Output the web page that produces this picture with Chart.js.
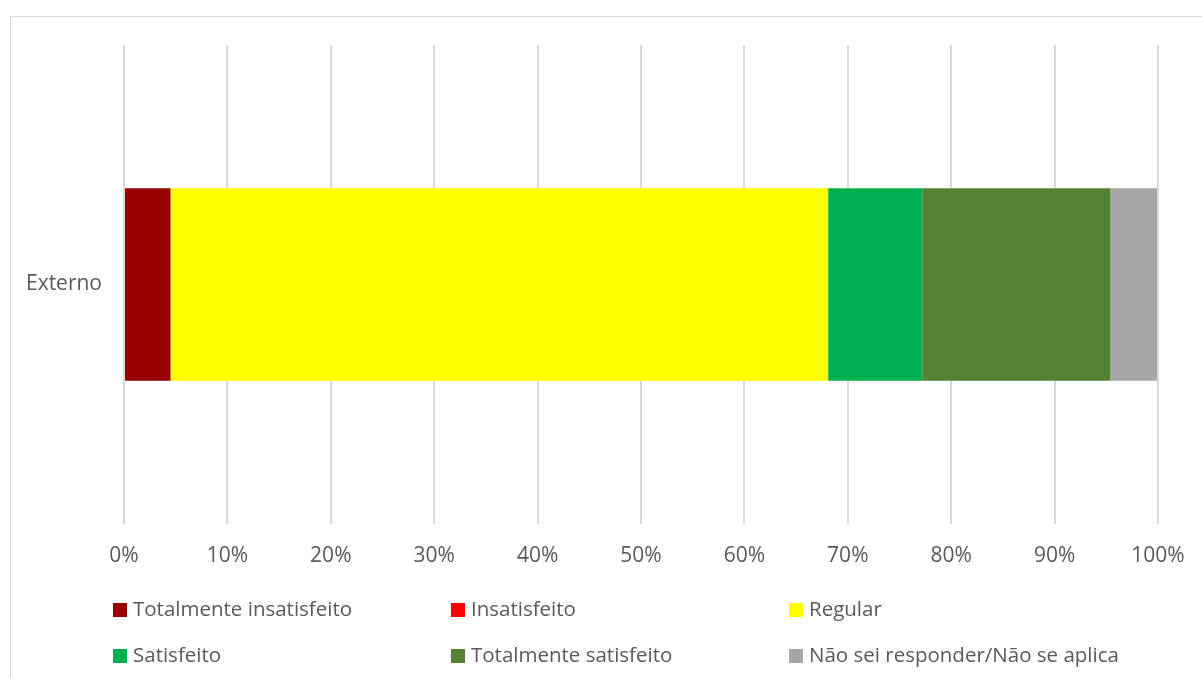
<!DOCTYPE html>
<html>
<head>
<meta charset="utf-8">
<script src="https://cdn.jsdelivr.net/npm/chart.js@4"></script>
<style>
    body { margin: 0; background: #fff; font-family: "Open Sans", sans-serif; }
    #wrap { position: relative; width: 1202px; height: 678px; overflow: hidden; }
    #frame { position: absolute; left: 10px; top: 16px; width: 1210px; height: 700px; border: 1.5px solid #d9d9d9; box-sizing: border-box; }
    #chart { position: absolute; left: 0; top: 0; }
    .leg { position: absolute; font-size: 20.5px; color: #595959; white-space: nowrap; line-height: 24px; }
    .leg span { display: inline-block; width: 14px; height: 14px; margin-right: 6px; vertical-align: -1px; }
</style>
</head>
<body>
<div id="wrap">
    <div id="frame"></div>
    <canvas id="chart" width="1202" height="678"></canvas>
    <div id="legend"></div>
</div>
<script>
const categories = ['Externo'];
const seriesNames = ['Totalmente insatisfeito', 'Insatisfeito', 'Regular', 'Satisfeito', 'Totalmente satisfeito', 'Não sei responder/Não se aplica'];
const seriesValues = [[4.5], [0], [63.6], [9.1], [18.2], [4.5]];
const seriesColors = ['#990000', '#ff0000', '#ffff00', '#00b050', '#548235', '#a6a6a6'];
const tickLabels = ['0%', '10%', '20%', '30%', '40%', '50%', '60%', '70%', '80%', '90%', '100%'];

const textColor = '#595959';
const font = { family: '"Open Sans", sans-serif', size: 21 };

const ctx = document.getElementById("chart").getContext("2d");
new Chart(ctx, {
    type: 'bar',
    data: {
        labels: categories,
        datasets: seriesNames.map((name, i) => ({
            label: name,
            data: seriesValues[i],
            backgroundColor: seriesColors[i],
            borderWidth: 0,
            categoryPercentage: 1,
            barPercentage: 0.402
        }))
    },
    options: {
        indexAxis: 'y',
        responsive: false,
        animation: false,
        layout: {
            padding: { left: 10, right: 44, top: 45, bottom: 100 }
        },
        plugins: {
            legend: { display: false },
            tooltip: {
                callbacks: {
                    label: c => c.dataset.label + ': ' + c.parsed.x + '%'
                }
            }
        },
        scales: {
            x: {
                stacked: true,
                min: 0,
                max: 100,
                afterFit: s => { s.height = 54; s.paddingRight = 0; s.paddingLeft = 0; },
                grid: { color: '#d9d9d9', lineWidth: 2, drawTicks: false },
                border: { display: false },
                ticks: {
                    stepSize: 10,
                    padding: 19,
                    color: textColor,
                    font: font,
                    callback: (v, i) => tickLabels[i]
                }
            },
            y: {
                stacked: true,
                afterFit: s => { s.width = 114; },
                grid: { display: false, drawTicks: false },
                border: { display: false },
                ticks: { padding: 22, color: textColor, font: font }
            }
        }
    }
});

// legend in a 3 x 2 grid like the original
const legend = document.getElementById('legend');
seriesNames.forEach((name, i) => {
    const d = document.createElement('div');
    d.className = 'leg';
    d.style.left = (113 + (i % 3) * 338) + 'px';
    d.style.top = (596 + Math.floor(i / 3) * 46) + 'px';
    d.innerHTML = '<span style="background:' + seriesColors[i] + '"></span>' + name;
    legend.appendChild(d);
});
</script>
</body>
</html>
